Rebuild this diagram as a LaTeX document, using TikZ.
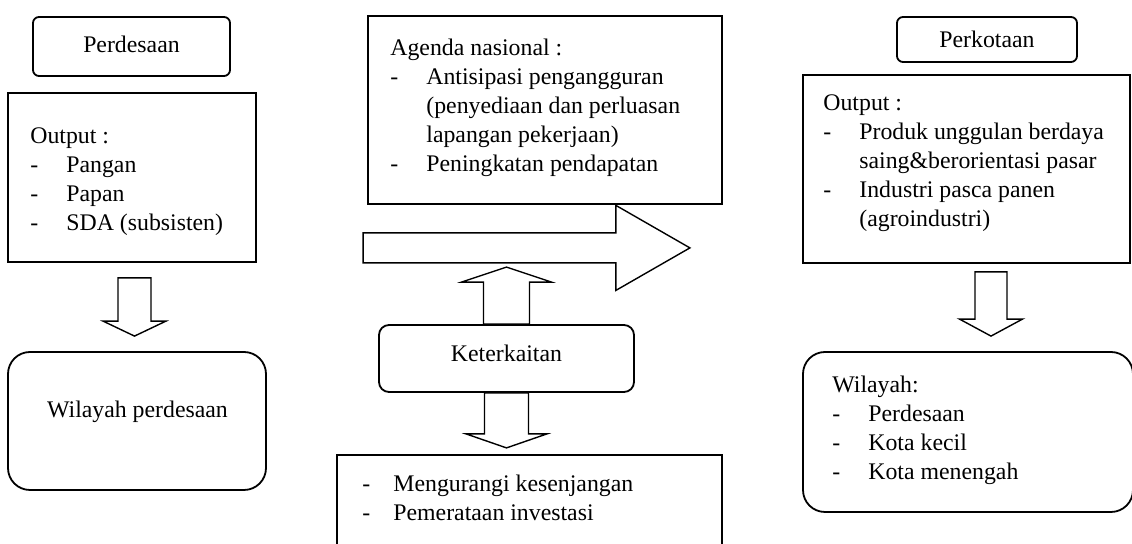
\documentclass[tikz,border=0pt]{standalone}
\usepackage{fontspec}
\setmainfont{Liberation Serif}
\usetikzlibrary{positioning,calc}

\newcommand{\itemdash}[2][18pt]{\makebox[#1][l]{-}#2}
\newcommand{\itemcont}[2][18pt]{\hspace*{#1}#2}
% block arrow: start, tip, shaft half width, head half width, head length
\newcommand{\blockarrow}[5]{%
  \coordinate (hb) at ($(#2)!#5!(#1)$);
  \draw[arrowline] ($(#1)!#3!90:(#2)$) -- ($(hb)!#3!90:(#2)$) -- ($(hb)!#4!90:(#2)$) -- (#2)
    -- ($(hb)!#4!-90:(#2)$) -- ($(hb)!#3!-90:(#2)$) -- ($(#1)!#3!-90:(#2)$) -- cycle;
}

\tikzset{
    every node/.style={font=\fontsize{11.9pt}{14.5pt}\selectfont},
    rectbox/.style={draw, line width=0.9pt, inner sep=0pt},
    roundbox/.style={rectbox, rounded corners=3pt},
    bigroundbox/.style={rectbox, rounded corners=11pt},
    textblock/.style={anchor=north west, inner sep=0pt, align=left},
    arrowline/.style={line width=0.7pt, line join=miter},
}

\begin{document}
\begin{tikzpicture}[x=0.5pt,y=-0.5pt]
\clip (0,0) rectangle (1132,544);

% left column
\node[roundbox, text depth=2.5pt, minimum width=98.5pt, minimum height=29.5pt] (perd) at (131.5,46.5) {Perdesaan};
\node[rectbox, minimum width=124pt, minimum height=84.5pt] (lout) at (132,177.5) {};
\node[textblock] (lout-t) at (30,122.7) {\strut Output :\\ \itemdash{Pangan}\\ \itemdash{Papan}\\ \itemdash{SDA (subsisten)}};
\node[bigroundbox, minimum width=129pt, minimum height=69pt] (lwil) at (137,421) {};
\node (lwil-t) at (137.5,412) {Wilayah perdesaan};

% middle column
\node[rectbox, minimum width=177pt, minimum height=94pt] (agenda) at (545,110) {};
\node[textblock] (agenda-t) at (390,35) {\strut Agenda nasional :\\ \itemdash{Antisipasi pengangguran}\\
  \itemcont{(penyediaan dan perluasan}\\ \itemcont{lapangan pekerjaan)}\\ \itemdash{Peningkatan pendapatan}};
\node[roundbox, rounded corners=5pt, text depth=5pt, minimum width=127.5pt, minimum height=33.5pt] (ket) at (506.5,358.5) {Keterkaitan};
\node[rectbox, minimum width=192.5pt, minimum height=55pt] (impact) at (529.5,510) {};
\node[textblock] (impact-t) at (362,471) {\strut\itemdash[15.5pt]{Mengurangi kesenjangan}\\ \itemdash[15.5pt]{Pemerataan investasi}};

% right column
\node[roundbox, minimum width=90pt, minimum height=22.5pt] (perk) at (987,39.5) {Perkotaan};
\node[rectbox, minimum width=163.5pt, minimum height=94pt] (rout) at (966.5,169) {};
\node[textblock] (rout-t) at (823,90) {\strut Output :\\ \itemdash{Produk unggulan berdaya}\\
  \itemcont{saing\&berorientasi pasar}\\ \itemdash{Industri pasca panen}\\ \itemcont{(agroindustri)}};
\node[bigroundbox, minimum width=165pt, minimum height=80pt] (rwil) at (968,432) {};
\node[textblock] (rwil-t) at (832,372) {\strut Wilayah:\\ \itemdash{Perdesaan}\\ \itemdash{Kota kecil}\\ \itemdash{Kota menengah}};

%=========================
% Block arrows
%=========================
\coordinate (flowA) at ($(agenda.south west)+(-4,43)$);
\coordinate (flowB) at ($(agenda.south east)+(-33,43)$);
\coordinate (ldS) at ($(lout.south)+(2.5,15)$);
\coordinate (ldT) at ($(lwil.north)+(-2.5,-15)$);
\coordinate (upT) at ($(ket.north)+(0,-57)$);
\coordinate (dnT) at ($(ket.south)+(0,55)$);
\coordinate (rdS) at ($(rout.south)+(24.5,8)$);
\coordinate (rdT) at ($(rwil.north)+(23,-15)$);

\blockarrow{flowA}{flowB}{7.5pt}{21.25pt}{37pt}
\blockarrow{ket.north}{upT}{11.5pt}{22.5pt}{7.5pt}
\foreach \s/\t/\w/\h/\l in {ldS/ldT/8.25pt/15.75pt/7.5pt, ket.south/dnT/11pt/20.25pt/7pt, rdS/rdT/8pt/15.75pt/8.5pt}{
  \blockarrow{\s}{\t}{\w}{\h}{\l}
}

\end{tikzpicture}
\end{document}
